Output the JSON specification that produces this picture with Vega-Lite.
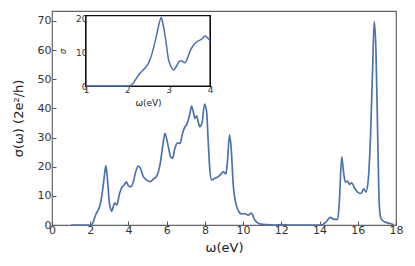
{
  "$schema": "https://vega.github.io/schema/vega-lite/v6.json",
  "width": 344,
  "height": 214,
  "autosize": {"type": "none"},
  "padding": {"left": 52, "top": 11, "right": 19, "bottom": 41},
  "background": "white",
  "config": {
    "font": "DejaVu Sans",
    "view": {"stroke": "#666666", "strokeWidth": 1.2},
    "axis": {"grid": false, "labelFlush": false, "labelFont": "DejaVu Sans", "titleFont": "DejaVu Sans", "labelColor": "#333333", "titleColor": "#222222", "titleFontWeight": "normal"}
  },
  "data": {
    "values": [
      {"w": 1.0, "s": 0}, {"w": 1.5, "s": 0}, {"w": 2.0, "s": 0}, {"w": 2.06, "s": 0.05},
      {"w": 2.14, "s": 0.8}, {"w": 2.22, "s": 2.3}, {"w": 2.3, "s": 3.7}, {"w": 2.42, "s": 5.2},
      {"w": 2.53, "s": 7.2}, {"w": 2.62, "s": 10.6}, {"w": 2.7, "s": 14.6}, {"w": 2.77, "s": 18.5},
      {"w": 2.82, "s": 20.3}, {"w": 2.86, "s": 18.5}, {"w": 2.93, "s": 13.6}, {"w": 2.99, "s": 8.2},
      {"w": 3.06, "s": 5.7}, {"w": 3.12, "s": 4.7}, {"w": 3.18, "s": 5.7}, {"w": 3.25, "s": 7.2},
      {"w": 3.3, "s": 7.5}, {"w": 3.39, "s": 6.9}, {"w": 3.44, "s": 7.7}, {"w": 3.51, "s": 10.1},
      {"w": 3.59, "s": 11.9}, {"w": 3.68, "s": 13.1}, {"w": 3.79, "s": 13.8}, {"w": 3.89, "s": 14.8},
      {"w": 3.95, "s": 14.1}, {"w": 4.0, "s": 13.4}, {"w": 4.12, "s": 13.1}, {"w": 4.26, "s": 14.9},
      {"w": 4.38, "s": 18.3}, {"w": 4.52, "s": 20.2}, {"w": 4.6, "s": 19.8}, {"w": 4.78, "s": 16.6},
      {"w": 4.96, "s": 15.4}, {"w": 5.13, "s": 14.9}, {"w": 5.3, "s": 15.7}, {"w": 5.48, "s": 16.8},
      {"w": 5.65, "s": 20.6}, {"w": 5.79, "s": 26.9}, {"w": 5.91, "s": 31.4}, {"w": 6.05, "s": 28},
      {"w": 6.21, "s": 23.4}, {"w": 6.31, "s": 22.9}, {"w": 6.43, "s": 26.3}, {"w": 6.57, "s": 28.2},
      {"w": 6.7, "s": 28}, {"w": 6.83, "s": 31.4}, {"w": 6.96, "s": 33.7}, {"w": 7.04, "s": 34.3},
      {"w": 7.13, "s": 36}, {"w": 7.22, "s": 38.3}, {"w": 7.3, "s": 40.8}, {"w": 7.39, "s": 38.9},
      {"w": 7.48, "s": 36.6}, {"w": 7.57, "s": 37.4}, {"w": 7.65, "s": 35.4}, {"w": 7.74, "s": 33.7},
      {"w": 7.86, "s": 35.4}, {"w": 7.98, "s": 41.5}, {"w": 8.09, "s": 38.9}, {"w": 8.17, "s": 29.1},
      {"w": 8.26, "s": 18.9}, {"w": 8.35, "s": 15.5}, {"w": 8.52, "s": 16}, {"w": 8.7, "s": 16.6},
      {"w": 8.87, "s": 17.6}, {"w": 8.96, "s": 18.3}, {"w": 9.1, "s": 17.5}, {"w": 9.18, "s": 21.7},
      {"w": 9.29, "s": 30.9}, {"w": 9.39, "s": 25}, {"w": 9.48, "s": 14}, {"w": 9.6, "s": 8},
      {"w": 9.74, "s": 5}, {"w": 9.91, "s": 3.8}, {"w": 10.09, "s": 3.9}, {"w": 10.26, "s": 3.4},
      {"w": 10.43, "s": 4.1}, {"w": 10.6, "s": 1.8}, {"w": 10.87, "s": 0.4}, {"w": 11.2, "s": 0.1},
      {"w": 11.6, "s": 0}, {"w": 12.0, "s": 0.1}, {"w": 12.5, "s": 0}, {"w": 13.0, "s": 0},
      {"w": 13.5, "s": 0}, {"w": 14.08, "s": 0}, {"w": 14.35, "s": 1.1}, {"w": 14.55, "s": 2.6},
      {"w": 14.73, "s": 2.0}, {"w": 14.95, "s": 1.9}, {"w": 15.04, "s": 8.5}, {"w": 15.16, "s": 23.4},
      {"w": 15.26, "s": 17.9}, {"w": 15.35, "s": 14.7}, {"w": 15.47, "s": 15.1}, {"w": 15.56, "s": 13.9},
      {"w": 15.68, "s": 14.5}, {"w": 15.82, "s": 12.8}, {"w": 15.99, "s": 11.3}, {"w": 16.17, "s": 10.8},
      {"w": 16.31, "s": 12.4}, {"w": 16.43, "s": 11.3}, {"w": 16.55, "s": 15.6}, {"w": 16.66, "s": 29.3},
      {"w": 16.78, "s": 54.4}, {"w": 16.86, "s": 69.8}, {"w": 16.95, "s": 60}, {"w": 17.04, "s": 31.5},
      {"w": 17.13, "s": 6.3}, {"w": 17.21, "s": 2.3}, {"w": 17.39, "s": 1.1}, {"w": 17.65, "s": 0.6},
      {"w": 17.9, "s": 0.1}
    ]
  },
  "layer": [
    {
      "mark": {"type": "line", "color": "#4C72B0", "strokeWidth": 1.7, "interpolate": "monotone"},
      "encoding": {
        "x": {
          "field": "w", "type": "quantitative",
          "scale": {"domain": [0, 18], "nice": false, "zero": false},
          "axis": {"orient": "bottom", "values": [0, 2, 4, 6, 8, 10, 12, 14, 16, 18], "format": "d", "domain": false, "tickSize": -4, "tickColor": "#555555", "labelFontSize": 11, "labelPadding": 3, "title": "ω(eV)", "titleFontSize": 13, "titlePadding": 6}
        },
        "y": {
          "field": "s", "type": "quantitative",
          "scale": {"domain": [0, 73.4], "nice": false},
          "axis": {"orient": "left", "values": [0, 10, 20, 30, 40, 50, 60, 70], "format": "d", "domain": false, "tickSize": -4, "tickColor": "#555555", "labelFontSize": 11, "labelPadding": 5, "title": "σ(ω) (2e²/h)", "titleFontSize": 13, "titlePadding": 12}
        }
      }
    },
    {
      "layer": [
        {
          "mark": {"type": "rect", "fill": "white", "stroke": "#111111", "strokeWidth": 1.2},
          "encoding": {
            "x": {"datum": 1, "type": "quantitative"},
            "x2": {"datum": 4},
            "y": {"datum": 0, "type": "quantitative"},
            "y2": {"datum": 20.8}
          }
        },
        {
          "transform": [{"filter": "datum.w >= 1 && datum.w <= 4"}],
          "mark": {"type": "line", "color": "#4C72B0", "strokeWidth": 1.5, "interpolate": "monotone"},
          "encoding": {
            "x": {
              "field": "w", "type": "quantitative",
              "scale": {"domain": [1, 4], "range": [34, 158], "nice": false, "zero": false},
              "axis": {"orient": "bottom", "offset": -139, "values": [1, 2, 3, 4], "format": "d", "domain": false, "tickSize": -3, "tickColor": "#333333", "labelFontSize": 9, "labelPadding": 2, "title": "ω(eV)", "titleFontSize": 9, "titlePadding": 4}
            },
            "y": {
              "field": "s", "type": "quantitative",
              "scale": {"domain": [0, 20.8], "range": [75, 4.7], "nice": false},
              "axis": {"orient": "left", "offset": -34, "values": [0, 10, 20], "format": "d", "domain": false, "tickSize": -3, "tickColor": "#333333", "labelFontSize": 9, "labelPadding": 2, "title": "σ", "titleFontSize": 8, "titleFontStyle": "italic", "titlePadding": 8}
            }
          }
        }
      ]
    }
  ],
  "resolve": {"scale": {"x": "independent", "y": "independent"}, "axis": {"x": "independent", "y": "independent"}}
}
